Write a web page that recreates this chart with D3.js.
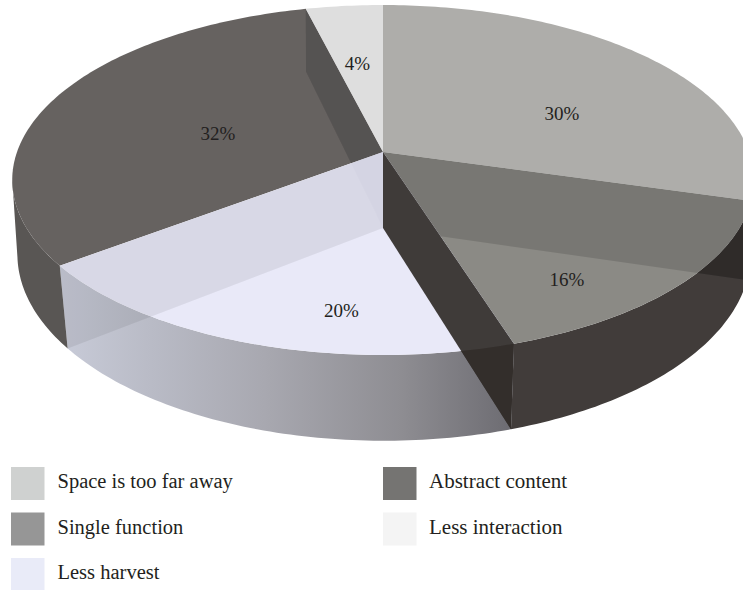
<!DOCTYPE html>
<html><head><meta charset="utf-8">
<script src="https://cdn.jsdelivr.net/npm/d3@7"></script>
<style>html,body{margin:0;padding:0;background:#fff;overflow:hidden}svg{display:block}</style>
</head><body><svg id="c" width="743" height="590"></svg>
<script>
const categories = ["Space is too far away","Single function","Less harvest","Abstract content","Less interaction"];
const values = [30,16,20,32,4];
const labels = ["30%","16%","20%","32%","4%"];
const faceColors = ["#aeadaa","#8b8a85","#e9e9f8","#666260","#dedede"];
const wallColors = ["#3a3533","#413c3a","url(#lav)","#595654","#595654"];
const legendColors = ["#cfd1d0","#969696","#e9ebf8","#757472","#f4f4f4"];

const svg = d3.select("#c");
const arcs = d3.pie().sort(null).value(d=>d)(values);

// perspective projection of the top and base discs
const top_ = {cx:383, cy:152, R:366, B:170.5, k:.16};
const base = {cx:384, cy:228, R:363, B:183, k:.14};
function proj(p,a,r=1){
  const X=r*Math.sin(a), Y=r*Math.cos(a), s=1/(1+p.k*Y);
  return [p.cx+p.R*X*s, p.cy-p.B*Y*s];
}
const line=d3.line().curve(d3.curveLinear);
const rim=(p,a0,a1)=>{const n=Math.max(2,Math.ceil((a1-a0)*60));return d3.range(n+1).map(i=>proj(p,a0+(a1-a0)*i/n));};
const poly=pts=>line(pts)+"Z";
const apexT=[top_.cx,top_.cy], apexB=[383,base.cy];

const defs=svg.append("defs");
const g=defs.append("linearGradient").attr("id","lav").attr("gradientUnits","userSpaceOnUse")
  .attr("x1",60).attr("x2",515).attr("y1",0).attr("y2",0);
[[0,"#c8cbd8"],[.2,"#b9bbc6"],[.45,"#a8a8b0"],[.75,"#8e8d92"],[1,"#6c6b71"]]
  .forEach(s=>g.append("stop").attr("offset",s[0]).attr("stop-color",s[1]));

// only the front of the drum shows a wall: clamp to the silhouette
const frontStart=Math.PI/2, frontEnd=261*Math.PI/180;
const outer=d=>{
  const a0=Math.max(d.startAngle,frontStart), a1=Math.min(d.endAngle,frontEnd);
  return poly(rim(top_,a0,a1).concat(rim(base,a0,a1).reverse()));
};
const face=d=>poly([apexT].concat(rim(top_,d.startAngle,d.endAngle)));
const innerWall=a=>poly([apexT,proj(top_,a),proj(base,a),apexB]);

// outer walls of the slices that reach the front
svg.selectAll(".outer").data(arcs.slice(0,4)).join("path").attr("class","outer")
  .attr("d",outer).attr("fill",(d,i)=>wallColors[i]);
defs.append("clipPath").attr("id","clip16").append("path").attr("d",outer(arcs[1]));
defs.append("clipPath").attr("id","clip20").append("path").attr("d",outer(arcs[2]));

// top faces except the front one
[0,1,3,4].forEach(i=>svg.append("path").attr("d",face(arcs[i])).attr("fill",faceColors[i]));

// inner wall at the end of the large slice
svg.append("path").attr("d",innerWall(arcs[3].endAngle)).attr("fill","#000").attr("fill-opacity",.15);
// front face
svg.append("path").attr("d",face(arcs[2])).attr("fill",faceColors[2]);
svg.append("path").attr("d",innerWall(arcs[3].endAngle)).attr("fill","#50507a").attr("fill-opacity",.025);

// inner wall at end of first slice, seen through the face
svg.append("path").attr("d",innerWall(arcs[0].endAngle)).attr("fill","#000").attr("fill-opacity",.135);
svg.append("path").attr("d",innerWall(arcs[0].endAngle)).attr("fill","#000").attr("fill-opacity",.16).attr("clip-path","url(#clip16)");

// inner wall at the start of the large slice
svg.append("path").attr("d",innerWall(arcs[3].startAngle)).attr("fill","#000").attr("fill-opacity",.07);

// dark wall between 16% and 20%
const w=innerWall(arcs[1].endAngle);
svg.append("path").attr("d",w).attr("fill","#3f3b39");
svg.append("path").attr("d",w).attr("fill","#332e2b").attr("clip-path","url(#clip20)");

// value labels
const labelR=[.62,.62,.55,.62,.6], labelDx=[8,9,25,42,-1], labelDy=[22,49,61,16,5];
const font="'Liberation Serif',serif";
svg.selectAll(".val").data(arcs).join("text").attr("class","val")
  .attr("x",(d,i)=>proj(top_,(d.startAngle+d.endAngle)/2,labelR[i])[0]+labelDx[i])
  .attr("y",(d,i)=>proj(top_,(d.startAngle+d.endAngle)/2,labelR[i])[1]+labelDy[i])
  .attr("text-anchor","middle").attr("dy","6").attr("font-family",font).attr("font-size",19).attr("fill","#231f20")
  .text((d,i)=>labels[i]);

// legend
const rows=d3.scalePoint().domain([0,1,2]).range([467,558]);
const cols=d3.scalePoint().domain([0,1]).range([11,383]);
categories.forEach((c,i)=>{
  const col=i<3?0:1,row=i<3?i:i-3;
  svg.append("rect").attr("x",cols(col)).attr("y",rows(row)).attr("width",33.5).attr("height",33).attr("fill",legendColors[i]);
  svg.append("text").attr("x",cols(col)+(col?46:46.5)).attr("y",rows(row)+21).attr("font-family",font).attr("font-size",col?21:20.5).attr("fill","#231f20").text(c);
});
</script></body></html>
